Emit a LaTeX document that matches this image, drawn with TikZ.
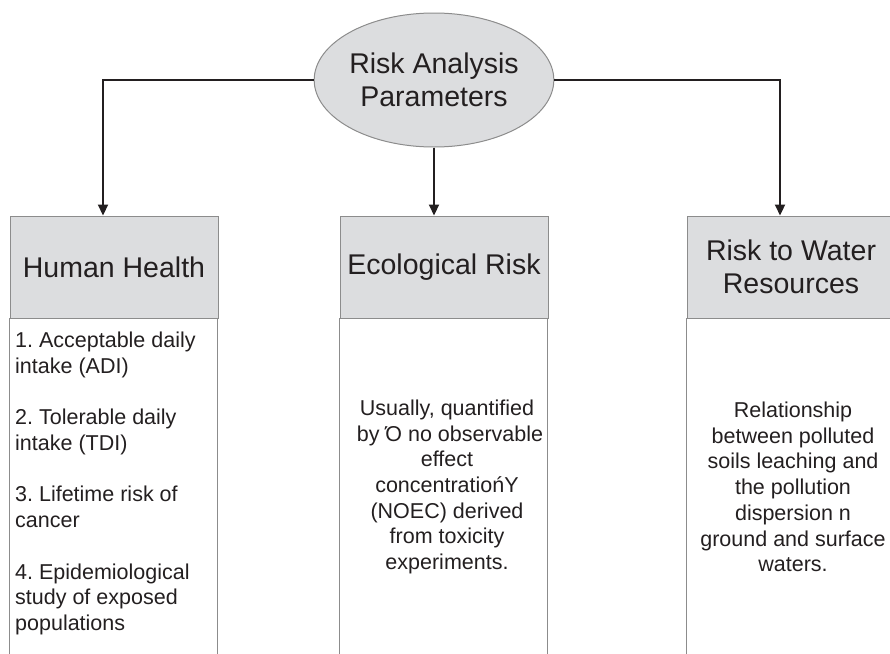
\documentclass[tikz,border=0pt]{standalone}
\usepackage{fontspec}
\setmainfont{Liberation Sans}
\usetikzlibrary{arrows.meta, shapes.geometric}

\definecolor{panelgray}{HTML}{DCDDDF}
\definecolor{edgegray}{HTML}{8C8C8C}
\definecolor{inkdark}{HTML}{231F20}

\tikzset{
    heading/.style = {draw = edgegray, line width = 1pt, fill = panelgray,
        minimum width = 208pt, minimum height = 102pt, inner sep = 0pt,
        align = center, text = inkdark,
        font = \fontsize{28.5}{33}\selectfont},
    bodytext/.style = {inner sep = 0pt, text = inkdark,
        font = \fontsize{21.5}{25.7}\selectfont\frenchspacing},
    link/.style = {draw = inkdark, line width = 2.2pt,
        -{Triangle[width = 10pt, length = 11pt]}}
}

\begin{document}
\begin{tikzpicture}[x = 1pt, y = -1pt]
    \useasboundingbox (0, 0) rectangle (890, 653);

    % top ellipse
    \node [ellipse, draw = edgegray, line width = 1pt, fill = panelgray,
        minimum width = 202pt, minimum height = 134pt, inner sep = 0pt,
        align = center, text = inkdark,
        font = \fontsize{28.5}{33}\selectfont] (params) at (434, 80)
        {Risk Analysis\\Parameters};

    % column headings
    \node [heading] (health) at (114, 267) {Human Health};
    \node [heading] (eco)    at (444, 267) {Ecological Risk};
    \node [heading] (water)  at (791, 267) {Risk to Water\\Resources};

    % column bodies (run off the page bottom)
    \draw [edgegray, line width = 1pt] (health.south west) rectangle ++(208, 400);
    \draw [edgegray, line width = 1pt] (eco.south west)    rectangle ++(208, 400);
    \draw [edgegray, line width = 1pt] (water.south west)  rectangle ++(208, 400);

    \node [bodytext, anchor = north west, align = left] (healthlist) at (15, 332)
        {1. Acceptable daily\\intake (ADI)\\[25.7pt]
         2. Tolerable daily\\intake (TDI)\\[25.7pt]
         3. Lifetime risk of\\cancer\\[25.7pt]
         4. Epidemiological\\study of exposed\\populations};

    \node [bodytext, align = center] (ecotext) at (447, 487)
        {Usually, quantified\\
         \ by Ό no observable\\
         effect\\
         concentratiońY\\
         (NOEC) derived\\
         from toxicity\\
         experiments.};

    \node [bodytext, align = center] (watertext) at (793, 487)
        {Relationship\\
         between polluted\\
         soils leaching and\\
         the pollution\\
         dispersion n\\
         ground and surface\\
         waters.};

    % connectors
    \draw [link] (params.west) -| ([xshift = -11pt] health.north);
    \draw [link] (params.east) -| ([xshift = -11pt] water.north);
    \draw [link] (params.south) -- (params.south |- eco.north);
\end{tikzpicture}
\end{document}
